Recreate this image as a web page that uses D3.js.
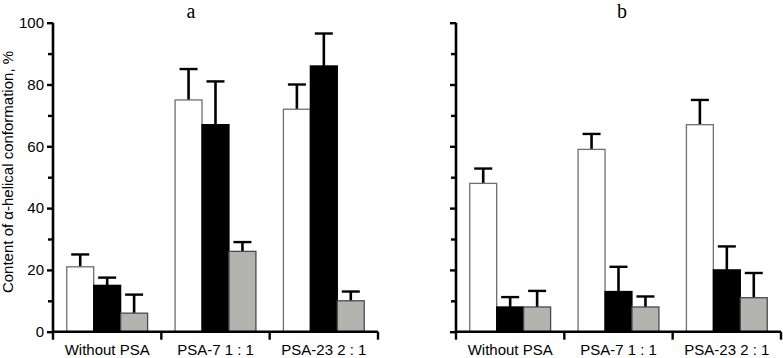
<!DOCTYPE html>
<html><head><meta charset="utf-8">
<script src="https://cdn.jsdelivr.net/npm/d3@7"></script>
<style>body{margin:0;background:#fff}svg{display:block}</style>
</head><body>
<script>
const categories = ["Without PSA", "PSA-7 1 : 1", "PSA-23 2 : 1"];
const seriesNames = ["white", "black", "gray"];
// panel a values and error (upper) bars
const aWhite = [21, 75, 72];
const aBlack = [15, 67, 86];
const aGray = [6, 26, 10];
const aWhiteErr = [4, 10, 8];
const aBlackErr = [2.5, 14, 10.5];
const aGrayErr = [6, 3, 3];
// panel b
const bWhite = [48, 59, 67];
const bBlack = [8, 13, 20];
const bGray = [8, 8, 11];
const bWhiteErr = [4.8, 5, 8];
const bBlackErr = [3.2, 8, 7.6];
const bGrayErr = [5.2, 3.4, 8];
const yTicks = [0, 20, 40, 60, 80, 100];
const yMinorTicks = [10, 30, 50, 70, 90];
const panelTitles = ["a", "b"];

const W = 783, H = 358;
const svg = d3.select("body").append("svg").attr("width", W).attr("height", H);
const y = d3.scaleLinear().domain([0, 100]).range([331.7, 22.7]);
const fills = {white: "#ffffff", black: "#000000", gray: "#b3b4b0"};
const strokes = {white: "#6e6e6e", black: "#000000", gray: "#4a4a4a"};
const font = "'Liberation Sans', Arial, sans-serif";

function panel(x0, x1, vals, errs, title, titleX, showLabels) {
  const g = svg.append("g");
  const x = d3.scaleBand().domain(categories).range([x0, x1]).paddingInner(0).paddingOuter(0);
  const xs = d3.scaleBand().domain(seriesNames).range([0, x.bandwidth()]).paddingInner(0).paddingOuter(0.51);
  const data = [];
  categories.forEach((c, i) => seriesNames.forEach((s, j) => data.push({c, s, v: vals[j][i], e: errs[j][i]})));
  // error bars
  const eb = g.selectAll(".eb").data(data).enter().append("g");
  eb.append("line")
    .attr("x1", d => x(d.c) + xs(d.s) + xs.bandwidth() / 2)
    .attr("x2", d => x(d.c) + xs(d.s) + xs.bandwidth() / 2)
    .attr("y1", d => y(d.v)).attr("y2", d => y(d.v + d.e))
    .attr("stroke", "#000").attr("stroke-width", 2.6);
  eb.append("line")
    .attr("x1", d => x(d.c) + xs(d.s) + xs.bandwidth() / 2 - 9)
    .attr("x2", d => x(d.c) + xs(d.s) + xs.bandwidth() / 2 + 9)
    .attr("y1", d => y(d.v + d.e)).attr("y2", d => y(d.v + d.e))
    .attr("stroke", "#000").attr("stroke-width", 2.4);
  // bars
  g.selectAll(".bar").data(data).enter().append("rect")
    .attr("x", d => x(d.c) + xs(d.s))
    .attr("width", xs.bandwidth())
    .attr("y", d => y(d.v))
    .attr("height", d => y(0) - y(d.v))
    .attr("fill", d => fills[d.s])
    .attr("stroke", d => strokes[d.s])
    .attr("stroke-width", 1.3);
  // y axis
  const ya = g.append("g").attr("transform", `translate(${x0},0)`)
    .call(d3.axisLeft(y).tickValues(yTicks).tickSize(6).tickPadding(3).tickFormat(showLabels ? d3.format("d") : () => ""));
  ya.select(".domain").attr("stroke-width", 2.6).attr("d", `M-0,${y(100)}V${y(0)}`);
  ya.selectAll(".tick line").attr("stroke-width", 2.4);
  ya.selectAll("text").attr("font-family", font).attr("font-size", 15).attr("fill", "#000");
  const ym = g.append("g").attr("transform", `translate(${x0},0)`)
    .call(d3.axisLeft(y).tickValues(yMinorTicks).tickSize(5).tickFormat(() => ""));
  ym.select(".domain").remove();
  ym.selectAll(".tick line").attr("stroke-width", 2.4);
  // x axis
  const xa = g.append("g").attr("transform", `translate(0,${y(0)})`)
    .call(d3.axisBottom(x).tickSize(0).tickPadding(13));
  xa.select(".domain").attr("stroke-width", 2.6).attr("d", `M${x0},0H${x1}`);
  xa.selectAll("text").attr("font-family", font).attr("font-size", 15).attr("fill", "#000");
  const bounds = categories.map(c => x(c)).concat([x1]);
  xa.selectAll(".sep").data(bounds).enter().append("line")
    .attr("x1", d => d).attr("x2", d => d).attr("y1", 0).attr("y2", 8)
    .attr("stroke", "#000").attr("stroke-width", 2.4);
  g.append("text").attr("x", titleX).attr("y", 18).attr("text-anchor", "middle")
    .attr("font-family", "'Liberation Serif', 'Times New Roman', serif").attr("font-size", 20).text(title);
}

panel(53, 378, [aWhite, aBlack, aGray], [aWhiteErr, aBlackErr, aGrayErr], panelTitles[0], 191, true);
panel(456, 781, [bWhite, bBlack, bGray], [bWhiteErr, bBlackErr, bGrayErr], panelTitles[1], 622, false);

svg.append("text")
  .attr("transform", "translate(13,172) rotate(-90)")
  .attr("text-anchor", "middle")
  .attr("font-family", font).attr("font-size", 15)
  .text("Content of α-helical conformation, %");
</script>
</body></html>
